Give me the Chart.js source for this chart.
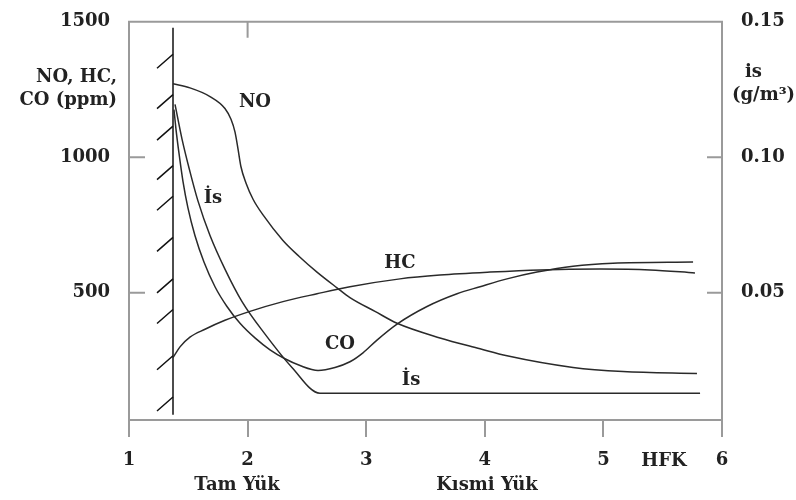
<!DOCTYPE html>
<html><head><meta charset="utf-8">
<script src="https://cdn.jsdelivr.net/npm/chart.js@4/dist/chart.umd.min.js"></script>
<style>html,body{margin:0;padding:0;background:#fff}#wrap{width:796px;height:500px}</style>
</head><body><div id="wrap"><canvas id="c" width="796" height="500"></canvas></div>
<script>
// ---- data ----
const xTicks = [1, 2, 3, 4, 5, 6];
const leftTicks = [500, 1000, 1500];
const rightTicks = [0.05, 0.10, 0.15];

const noX = [1.371, 1.514, 1.683, 1.809, 1.860, 1.894, 1.919, 1.944, 1.987, 2.046, 2.130, 2.298, 2.442, 2.585, 2.754, 2.863, 3.074, 3.260, 3.622, 3.960, 4.187, 4.744, 5.165, 5.789];
const noY = [1271, 1256, 1224, 1180, 1140, 1093, 1031, 965, 904, 845, 787, 693, 631, 576, 518, 482, 431, 387, 333, 293, 267, 224, 209, 202];

const hcX = [1.371, 1.430, 1.514, 1.641, 1.809, 2.020, 2.298, 2.585, 2.863, 3.285, 3.622, 4.044, 4.465, 4.971, 5.393, 5.772];
const hcY = [260, 300, 336, 365, 398, 431, 467, 496, 522, 551, 565, 576, 584, 587, 584, 573];

const coX = [1.379, 1.396, 1.422, 1.455, 1.497, 1.556, 1.632, 1.725, 1.826, 1.936, 2.062, 2.189, 2.315, 2.442, 2.594, 2.737, 2.863, 2.973, 3.091, 3.260, 3.513, 3.766, 3.960, 4.187, 4.440, 4.744, 5.081, 5.756];
const coY = [1176, 1104, 1013, 911, 813, 711, 613, 522, 449, 387, 333, 289, 256, 231, 213, 224, 245, 278, 325, 384, 449, 496, 522, 551, 576, 598, 609, 613];

const isX = [1.388, 1.447, 1.514, 1.582, 1.683, 1.809, 1.953, 2.147, 2.374, 2.610, 5.815];
const isY = [0.1195, 0.1067, 0.0947, 0.0838, 0.0711, 0.0587, 0.0467, 0.0347, 0.0224, 0.0129, 0.0129];

// full-load limit line and its hatching
const limitX = [1.371, 1.371];
const limitY = [1478, 49];
const hatchY = [1380, 1231, 1115, 969, 856, 704, 551, 438, 267, 115];

const pts = (xs, ys) => xs.map((x, i) => ({x: x, y: ys[i]}));

const FAM = '"DejaVu Serif", "Liberation Serif", serif';
const FONT = 'bold 18px ' + FAM;
const INK = '#222';
const FRAME = '#9a9a9a';

const curveLabels = [
  {t: 'NO', x: 2.062, y: 1202},
  {t: 'İs', x: 1.708, y: 849},
  {t: 'HC', x: 3.285, y: 609},
  {t: 'CO', x: 2.779, y: 311},
  {t: 'İs', x: 3.378, y: 176}
];

const deco = {
  id: 'deco',
  afterDraw(chart) {
    const ctx = chart.ctx, a = chart.chartArea;
    const xs = chart.scales.x, ys = chart.scales.y, y2 = chart.scales.y2;
    ctx.save();
    ctx.strokeStyle = FRAME; ctx.lineWidth = 2;
    ctx.beginPath(); ctx.moveTo(a.left - 1, a.top); ctx.lineTo(a.right + 1, a.top); ctx.stroke();
    ctx.beginPath();
    [500, 1000].forEach(v => { const p = ys.getPixelForValue(v); ctx.moveTo(a.left, p); ctx.lineTo(a.left + 16, p); });
    [0.05, 0.10].forEach(v => { const p = y2.getPixelForValue(v); ctx.moveTo(a.right, p); ctx.lineTo(a.right - 15, p); });
    const tx = xs.getPixelForValue(2); ctx.moveTo(tx, a.top); ctx.lineTo(tx, a.top + 16);
    ctx.stroke();
    ctx.strokeStyle = '#111'; ctx.lineWidth = 1.5;
    const lx = xs.getPixelForValue(limitX[0]);
    ctx.beginPath();
    hatchY.forEach(v => { const p = ys.getPixelForValue(v); ctx.moveTo(lx, p); ctx.lineTo(lx - 16, p + 14); });
    ctx.stroke();
    ctx.fillStyle = INK; ctx.font = FONT; ctx.textBaseline = 'middle';
    ctx.textAlign = 'center';
    curveLabels.forEach(l => ctx.fillText(l.t, xs.getPixelForValue(l.x), ys.getPixelForValue(l.y)));
    ctx.fillText('HFK', 664, 461);
    ctx.fillText('Tam Yük', 237, 485);
    ctx.fillText('Kısmi Yük', 487, 485);
    ctx.textAlign = 'right';
    ctx.fillText('NO, HC,', 117, 77);
    ctx.fillText('CO (ppm)', 117, 100);
    ctx.textAlign = 'left';
    ctx.fillText('is', 745, 72);
    ctx.fillText('(g/m³)', 732, 95);
    ctx.restore();
  }
};

const line = (data, axis) => ({
  data: data, yAxisID: axis, borderColor: '#2a2a2a', borderWidth: 1.5,
  pointRadius: 0, fill: false, cubicInterpolationMode: 'monotone'
});

const tickFont = {family: FAM, weight: 'bold', size: 18};

new Chart(document.getElementById('c'), {
  type: 'line',
  data: {
    datasets: [
      line(pts(noX, noY), 'y'),
      line(pts(hcX, hcY), 'y'),
      line(pts(coX, coY), 'y'),
      line(pts(isX, isY), 'y2'),
      Object.assign(line(pts(limitX, limitY), 'y'), {borderColor: '#111'})
    ]
  },
  plugins: [deco],
  options: {
    responsive: false, animation: false, devicePixelRatio: 1,
    layout: {padding: {top: 16, left: 0, right: 0, bottom: 0}},
    plugins: {legend: {display: false}, tooltip: {enabled: false}},
    scales: {
      x: {
        type: 'linear', min: 1, max: 6,
        afterBuildTicks: s => { s.ticks = xTicks.map(v => ({value: v})); },
        afterFit: s => { s.height = 80; },
        grid: {drawOnChartArea: false, color: FRAME, lineWidth: 2, tickLength: 17},
        border: {color: FRAME, width: 2},
        ticks: {color: INK, font: tickFont, padding: 13, maxRotation: 0, callback: v => String(v)}
      },
      y: {
        type: 'linear', position: 'left', min: 30, max: 1500,
        afterBuildTicks: s => { s.ticks = leftTicks.map(v => ({value: v})); },
        afterFit: s => { s.width = 129; },
        grid: {display: false},
        border: {color: FRAME, width: 2},
        ticks: {color: INK, font: tickFont, padding: 11, callback: v => String(v)}
      },
      y2: {
        type: 'linear', position: 'right', min: 0.003, max: 0.15,
        afterBuildTicks: s => { s.ticks = rightTicks.map(v => ({value: v})); },
        afterFit: s => { s.width = 74; },
        grid: {display: false},
        border: {color: FRAME, width: 2},
        ticks: {color: INK, font: tickFont, padding: 11, callback: v => Number(v).toFixed(2)}
      }
    }
  }
});
</script>
</body></html>
